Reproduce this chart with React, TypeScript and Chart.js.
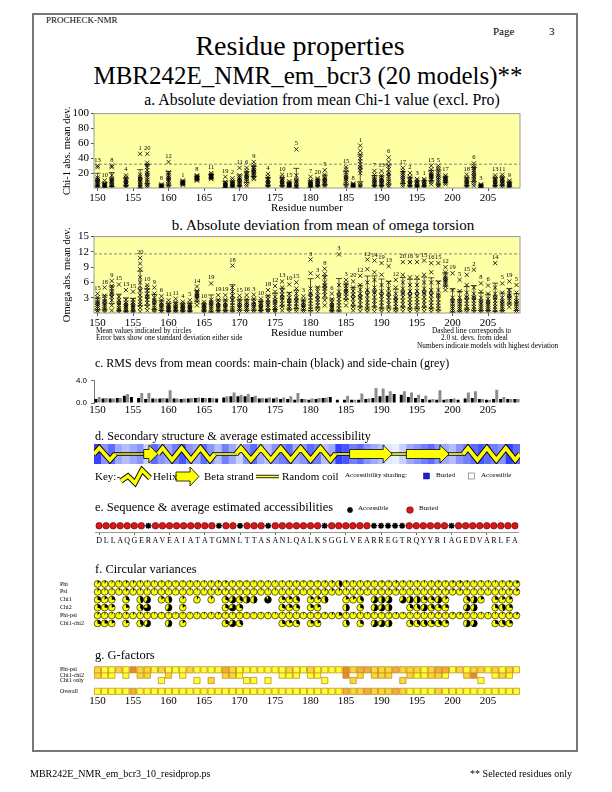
import React, { useEffect, useRef } from "react";
import { Chart, registerables } from "chart.js";

Chart.register(...registerables);

const SERIF = '"Liberation Serif", "Times New Roman", Times, serif';
const SANS = '"Liberation Sans", Arial, sans-serif';
const _ = null;

// ---------------- data ----------------
const SEQUENCE = [..."DLLAQGERAVEAIATATGMNLTTASANLQALKSGGLVEARREGTRQYYRIAGEDVARLFA"];
const FIRST_RESIDUE = 150;
const RESIDUES = SEQUENCE.map((_s, i) => FIRST_RESIDUE + i);
const X_TICKS = [150, 155, 160, 165, 170, 175, 180, 185, 190, 195, 200, 205];
const X_MIN = 149.5;
const X_MAX = 209.5;

// a. Chi-1 absolute deviation
const CHI1_RES = [150, 151, 152, 154, 156, 157, 159, 160, 162, 164, 166, 168, 169, 170, 171, 172, 174, 176, 177, 178, 180, 181, 182, 185, 186, 187, 189, 190, 191, 193, 194, 195, 196, 197, 198, 199, 202, 203, 204, 206, 207, 208];
const CHI1_TOP_MODEL = [13, 10, 8, 4, 1, 20, 8, 12, 1, 8, 11, 19, 2, 11, 6, 9, 4, 10, 15, 5, 7, 20, 5, 15, 8, 1, 7, 13, 6, 17, 2, 3, 1, 15, 5, 17, 18, 6, 3, 13, 11, 9];
const CHI1_VALUES = [
  [1, 2, 3, 5, 6, 8, 9, 11, 12, 14, 28, 30],
  [0.5, 1, 2, 3, 4, 5, 6, 10],
  [1, 2, 4, 5, 7, 9, 10, 12, 17, 28, 30],
  [1, 2, 4, 6, 8, 10, 12, 14, 17],
  [1, 2, 4, 6, 8, 10, 12, 15, 18, 46],
  [1, 3, 5, 8, 11, 14, 17, 20, 24, 28, 31, 34, 46],
  [0.5, 1, 2, 3, 4, 5],
  [1, 3, 5, 8, 10, 12, 14, 17, 19, 21, 35],
  [4, 5, 6, 7, 8, 9, 10],
  [10, 11, 12, 13, 14, 15, 16, 17],
  [12, 13, 14, 15, 16, 17, 18, 20],
  [0.5, 1, 2, 3, 4, 5, 6, 8, 15],
  [0.5, 1, 2, 3, 5, 6, 8, 10, 13],
  [1, 2, 4, 6, 8, 10, 12, 14, 17, 27],
  [3, 6, 9, 12, 14, 16, 18, 20, 23, 27],
  [12, 14, 16, 18, 20, 22, 24, 26, 28, 31, 35],
  [1, 2, 4, 6, 8, 10, 12, 15, 19],
  [0.5, 2, 4, 6, 8, 10, 12, 14, 18],
  [0.5, 1, 2, 3, 4, 5, 6, 7, 9],
  [0.5, 1, 2, 4, 6, 8, 10, 17, 52],
  [0.5, 1, 2, 3, 4, 5, 6, 8, 10, 15],
  [1, 2, 4, 6, 8, 10, 11, 13],
  [2, 4, 6, 8, 10, 12, 14, 18, 24],
  [1, 3, 6, 9, 12, 15, 18, 21, 25, 28],
  [1, 2, 3, 4, 5, 6],
  [1, 2, 4, 6, 20, 24, 28, 32, 36, 40, 45, 50, 57],
  [1, 2, 4, 6, 8, 10, 12, 15, 18, 23],
  [1, 2, 4, 6, 8, 10, 12, 14, 17, 23],
  [1, 3, 6, 9, 12, 16, 20, 25, 30, 35, 41],
  [2, 5, 8, 11, 14, 17, 20, 23, 27],
  [1, 2, 4, 6, 8, 10, 12, 15, 20],
  [0.5, 1, 2, 4, 6, 8, 10, 12],
  [1, 2, 4, 6, 8, 10, 12],
  [5, 8, 11, 13, 15, 16, 17, 19, 22, 25, 30],
  [1, 3, 5, 8, 11, 14, 17, 20, 24, 27, 30],
  [5, 7, 9, 11, 12, 13, 15, 17],
  [1, 2, 4, 6, 8, 10, 12, 14, 18],
  [3, 6, 9, 12, 15, 18, 21, 24, 27, 30, 33],
  [0.5, 1, 2, 3, 4, 5],
  [1, 2, 4, 6, 8, 10, 12, 14, 17],
  [1, 3, 5, 7, 9, 11, 13, 15, 18],
  [0.5, 2, 3, 4, 6, 8, 10],
];
const CHI1_CUTOFF = 32;
const CHI1_Y_TICKS = [20, 40, 60, 80, 100];

// b. omega absolute deviation (all residues)
const OMEGA_TOP_MODEL = [15, 18, 9, 15, 13, 15, 20, 10, 9, 6, 11, 11, 4, 5, 14, 10, 19, 19, 19, 18, 15, 16, 3, 10, 18, 12, 13, 10, 15, 3, 3, 3, 8, 6, 3, 3, 20, 12, 12, 14, 19, 13, 12, 20, 16, 9, 15, 16, 15, 12, 19, 5, 15, 2, 8, 6, 14, 5, 19, 5];
const OMEGA_VALUES = [
  [0.2, 0.5, 0.9, 1.3, 1.7, 2.1, 2.6, 3.1, 3.8],
  [0.2, 0.6, 1.0, 1.4, 1.8, 2.3, 2.8, 3.4, 5.0],
  [0.5, 1.5, 2.5, 3.2, 3.8, 4.3, 4.8, 5.3, 6.3],
  [0.2, 0.6, 1.0, 1.5, 2.0, 2.5, 3.2, 5.6],
  [0.1, 0.4, 0.8, 1.2, 1.6, 2.0, 2.6, 4.5],
  [0.1, 0.4, 0.8, 1.2, 1.6, 2.1, 2.6, 4.2],
  [0.3, 1.0, 1.6, 2.2, 2.8, 3.5, 4.4, 6.0, 7.0, 8.6, 9.7, 10.8],
  [0.5, 1.2, 2.0, 2.6, 3.2, 3.8, 4.4, 5.0, 5.5],
  [0.2, 0.6, 1.0, 1.5, 2.0, 2.5, 3.0, 3.8, 5.0],
  [0.1, 0.4, 0.8, 1.2, 1.6, 2.0, 2.5, 3.3],
  [0.1, 0.3, 0.6, 0.9, 1.2, 1.5, 1.9, 2.5],
  [0.1, 0.4, 0.7, 1.0, 1.3, 1.7, 2.1, 2.8],
  [0.1, 0.3, 0.6, 0.9, 1.2, 1.5, 1.8, 2.2],
  [0.1, 0.3, 0.6, 0.9, 1.2, 1.5, 1.9, 2.5],
  [1.5, 2.2, 2.8, 3.2, 3.5, 3.9, 4.3, 5.2],
  [0.1, 0.3, 0.6, 0.9, 1.2, 1.5, 1.8, 2.2],
  [0.1, 0.5, 0.9, 1.3, 1.7, 2.1, 2.6, 5.8],
  [0.1, 0.4, 0.8, 1.2, 1.6, 2.0, 2.6, 3.5],
  [0.1, 0.4, 0.8, 1.2, 1.6, 2.0, 2.6, 3.5],
  [0.2, 0.6, 1.0, 1.5, 2.0, 2.6, 3.4, 4.2, 5.0, 9.3],
  [0.1, 0.5, 0.9, 1.3, 1.7, 2.1, 2.7, 3.4],
  [0.1, 0.5, 0.9, 1.3, 1.7, 2.1, 2.7, 3.5],
  [0.1, 0.5, 0.9, 1.3, 1.7, 2.2, 2.8, 3.6],
  [0.1, 0.4, 0.8, 1.1, 1.5, 1.9, 2.3, 2.8],
  [0.2, 0.6, 1.1, 1.6, 2.1, 2.7, 3.4, 4.5],
  [0.2, 0.6, 1.0, 1.5, 2.0, 2.5, 3.2, 4.2, 5.3],
  [0.5, 1.2, 1.8, 2.4, 3.0, 3.6, 4.3, 5.0, 6.2],
  [0.3, 0.8, 1.3, 1.8, 2.4, 3.0, 3.8, 5.6],
  [0.3, 0.8, 1.3, 1.8, 2.4, 3.0, 3.8, 4.8, 6.0],
  [0.1, 0.5, 0.9, 1.3, 1.7, 2.1, 2.6, 3.3],
  [0.2, 0.7, 1.2, 1.8, 2.4, 3.0, 3.8, 4.8, 7.8, 10.5],
  [0.3, 0.9, 1.5, 2.1, 2.7, 3.4, 4.2, 5.0, 7.2],
  [1.5, 2.5, 3.5, 4.2, 4.8, 5.4, 6.0, 7.0, 7.7, 8.7],
  [0.1, 0.4, 0.8, 1.2, 1.6, 2.1, 2.7, 3.8],
  [0.3, 0.9, 1.5, 2.1, 2.7, 3.4, 4.2, 5.5, 11.5],
  [1.5, 2.5, 3.2, 3.8, 4.3, 4.8, 5.3, 5.8, 6.5],
  [0.5, 1.2, 2.0, 2.8, 3.6, 4.3, 5.0, 6.2],
  [0.3, 1.0, 1.7, 2.4, 3.1, 3.8, 4.6, 5.5, 7.3],
  [0.2, 0.8, 1.4, 2.0, 2.7, 3.5, 4.5, 6.0, 8.6, 10.5],
  [0.3, 1.0, 1.7, 2.4, 3.1, 4.0, 5.0, 6.5, 8.0, 10.3],
  [0.2, 0.8, 1.4, 2.0, 2.7, 3.4, 4.3, 5.5, 7.5, 9.8],
  [0.3, 1.0, 1.7, 2.4, 3.1, 3.9, 4.8, 6.0, 9.2],
  [0.2, 0.7, 1.2, 1.8, 2.4, 3.0, 3.8, 5.0, 6.5],
  [0.3, 1.0, 1.7, 2.4, 3.1, 3.9, 4.8, 6.0, 7.5, 10.0],
  [0.2, 0.8, 1.4, 2.0, 2.7, 3.4, 4.3, 5.5, 7.0, 10.0],
  [0.3, 0.9, 1.5, 2.1, 2.7, 3.4, 4.3, 5.5, 7.0, 10.0],
  [0.3, 1.0, 1.7, 2.4, 3.1, 3.9, 4.8, 6.0, 7.5, 10.3],
  [0.2, 0.8, 1.4, 2.0, 2.7, 3.5, 4.5, 6.0, 8.0, 9.8],
  [0.2, 0.8, 1.4, 2.0, 2.7, 3.5, 4.5, 6.0, 9.8],
  [4.5, 5.2, 5.7, 6.1, 6.5, 6.9, 7.3, 8.0, 9.0],
  [0.1, 0.5, 0.9, 1.3, 1.8, 2.3, 3.0, 4.5, 7.8],
  [0.1, 0.5, 0.9, 1.3, 1.8, 2.3, 3.0, 4.3, 6.5],
  [0.2, 0.7, 1.2, 1.8, 2.4, 3.1, 4.0, 5.5, 7.5],
  [0.2, 0.7, 1.2, 1.8, 2.4, 3.0, 3.8, 5.0, 8.5],
  [0.1, 0.5, 0.9, 1.3, 1.8, 2.3, 3.0, 4.2, 5.8],
  [0.1, 0.5, 0.9, 1.3, 1.7, 2.2, 2.8, 3.8, 5.4],
  [0.2, 0.7, 1.2, 1.8, 2.4, 3.0, 3.8, 5.0, 9.8],
  [0.1, 0.5, 0.9, 1.3, 1.8, 2.3, 3.0, 4.0, 5.8],
  [1.2, 1.8, 2.4, 2.9, 3.4, 3.9, 4.5, 6.2],
  [0.1, 0.5, 0.9, 1.3, 1.8, 2.3, 3.0, 4.0, 5.5],
];
const OMEGA_CUTOFF = 11.6;
const OMEGA_Y_TICKS = [3, 6, 9, 12, 15];

// c. RMS deviations
const MAIN_RMS = [0.7, 0.8, 0.8, 0.9, 1.3, 1.1, 0.9, 0.7, 0.8, 0.8, 0.8, 0.8, 0.7, 0.8, 0.9, 0.9, 0.9, 0.8, 1.0, 1.2, 1.2, 1.2, 1.1, 0.8, 0.8, 0.8, 0.7, 0.7, 0.6, 0.7, 0.6, 0.7, 0.9, 1.1, 0.6, 0.6, 0.6, 0.6, 0.7, 0.9, 1.2, 1.3, 1.6, 1.5, 1.1, 0.9, 0.7, 0.6, 0.6, 0.6, 0.7, 0.6, 0.8, 0.9, 0.7, 0.6, 0.7, 0.7, 0.7, 0.7];
const SIDE_RMS = [1.1, 0.9, 0.8, 0.9, 1.6, _, 1.8, 1.8, 0.8, 0.9, 2.3, 0.8, 0.8, 0.9, 1.0, 0.9, 0.9, _, 1.2, 1.9, 1.5, 1.6, 1.3, 0.9, 1.0, 1.0, 1.0, 1.2, 1.8, 0.7, 0.8, 0.9, 1.0, _, _, 1.3, 0.6, 1.7, 0.8, 2.7, 2.6, 2.1, _, 2.1, 1.9, 1.5, 1.3, 0.7, 2.3, 0.7, 0.8, _, 1.9, 2.1, 0.7, 0.6, 2.4, 1.1, 0.7, 0.7];
const RMS_Y_TICKS = [0, 4];

// d. secondary structure (H helix, E strand, C coil) and accessibility (0 buried .. 1 accessible)
const SEC_STRUCT = [..."HHHCCCCEEHHHHHHHHCCCHHHHHHHHHHHHHHCCEEEEEECCEEEEEECCHHHHHHHH"];
const ACCESSIBILITY = [0.1, 0.5, 0.3, 0.6, 0.7, 0.6, 0.5, 0.8, 0.3, 0.5, 0.6, 0.4, 0.2, 0.5, 0.6, 0.3, 0.5, 0.7, 0.4, 0.6, 0.8, 0.5, 0.3, 0.6, 0.7, 0.5, 0.4, 0.3, 0.6, 0.5, 0.3, 0.4, 0.7, 0.6, 0.1, 0.2, 0.4, 0.3, 0.5, 0.6, 0.7, 0.9, 0.95, 0.8, 0.6, 0.5, 0.4, 0.3, 0.5, 0.6, 0.7, 0.5, 0.4, 0.3, 0.2, 0.3, 0.4, 0.5, 0.1, 0.3];

// e. buried (1) / accessible (0)
const BURIED = [1, 1, 1, 1, 1, 1, 1, 0, 1, 1, 1, 1, 1, 1, 1, 1, 1, 0, 1, 1, 0, 1, 1, 1, 0, 1, 1, 1, 1, 1, 1, 1, 0, 1, 1, 1, 1, 1, 1, 0, 0, 0, 0, 0, 1, 1, 1, 1, 1, 1, 0, 1, 1, 1, 1, 1, 1, 1, 1, 1];

// f. circular variances
const CV_ROWS = ["Phi", "Psi", "Chi1", "Chi2", "Phi-psi", "Chi1-chi2"];
const CV_PHI = [0.12, 0.08, 0.06, 0.05, 0.1, 0.08, 0.06, 0.05, 0.05, 0.06, 0.05, 0.05, 0.05, 0.06, 0.05, 0.05, 0.06, 0.08, 0.1, 0.06, 0.05, 0.05, 0.05, 0.05, 0.05, 0.05, 0.05, 0.05, 0.06, 0.05, 0.05, 0.06, 0.08, 0.1, 0.45, 0.08, 0.06, 0.05, 0.06, 0.05, 0.08, 0.06, 0.1, 0.08, 0.06, 0.06, 0.05, 0.06, 0.08, 0.06, 0.1, 0.12, 0.08, 0.06, 0.05, 0.05, 0.05, 0.06, 0.08, 0.15];
const CV_PSI = [0.1, 0.06, 0.05, 0.06, 0.12, 0.08, 0.06, 0.05, 0.05, 0.05, 0.05, 0.05, 0.05, 0.05, 0.05, 0.05, 0.06, 0.1, 0.08, 0.06, 0.05, 0.05, 0.05, 0.05, 0.05, 0.05, 0.05, 0.05, 0.05, 0.05, 0.05, 0.06, 0.1, 0.12, 0.1, 0.06, 0.05, 0.06, 0.06, 0.06, 0.06, 0.08, 0.1, 0.06, 0.05, 0.06, 0.05, 0.06, 0.08, 0.08, 0.1, 0.1, 0.06, 0.05, 0.05, 0.05, 0.05, 0.06, 0.1, 0.15];
const CV_CHI1 = [0.3, 0.15, 0.25, _, 0.3, _, 0.45, 0.6, _, 0.15, 0.45, _, 0.1, _, 0.1, _, 0.1, _, 0.3, 0.6, 0.35, 0.5, 0.5, _, 0.9, _, 0.25, 0.2, 0.35, _, 0.2, 0.2, 0.45, _, _, 0.2, 0.15, 0.35, _, 0.6, 0.5, 0.6, _, 0.65, 0.55, 0.5, 0.3, 0.3, 0.55, 0.15, _, _, 0.35, 0.55, 0.2, _, 0.25, 0.2, 0.2, _];
const CV_CHI2 = [0.3, 0.25, 0.2, _, 0.25, _, 0.4, 0.75, _, _, 0.6, _, 0.15, _, _, _, _, _, 0.3, 0.7, 0.3, _, _, _, _, _, 0.3, 0.25, 0.3, _, 0.25, 0.2, _, _, _, 0.5, _, 0.3, _, 0.55, 0.6, 0.5, _, _, 0.3, 0.35, 0.6, 0.35, 0.3, 0.25, _, _, 0.6, 0.55, _, _, 0.3, 0.45, 0.25, _];
const CV_PHIPSI = [0.1, 0.06, 0.05, 0.05, 0.1, 0.08, 0.06, 0.05, 0.05, 0.05, 0.05, 0.05, 0.05, 0.05, 0.05, 0.05, 0.06, 0.08, 0.08, 0.06, 0.05, 0.05, 0.05, 0.05, 0.05, 0.05, 0.05, 0.05, 0.05, 0.05, 0.05, 0.06, 0.08, 0.1, 0.25, 0.06, 0.05, 0.05, 0.06, 0.05, 0.06, 0.06, 0.08, 0.06, 0.05, 0.06, 0.05, 0.06, 0.08, 0.06, 0.08, 0.1, 0.06, 0.05, 0.05, 0.05, 0.05, 0.06, 0.08, 0.12];
const CV_CHI12 = [0.3, 0.25, 0.2, _, 0.2, _, 0.4, 0.6, _, _, 0.55, _, 0.15, _, _, _, _, _, 0.3, 0.65, 0.35, _, _, _, _, _, 0.3, 0.2, 0.3, _, 0.25, 0.2, _, _, _, 0.4, _, 0.3, _, 0.6, 0.6, 0.5, _, _, 0.35, 0.35, 0.4, 0.3, 0.35, 0.25, _, _, 0.55, 0.6, _, _, 0.3, 0.35, 0.25, _];
const CV_SERIES = [CV_PHI, CV_PSI, CV_CHI1, CV_CHI2, CV_PHIPSI, CV_CHI12];

// g. G-factors
const G_ROWS = ["Phi-psi", "Chi1-chi2", "Chi1 only", " ", "Overall"];
const G_PHIPSI = [-0.5, 0.1, 0.1, -0.4, 0.1, -1.2, -0.5, -0.4, 0.1, -0.5, 0.1, 0.1, 0.1, -0.5, 0.1, 0.1, 0.1, 0.1, -1.0, -0.5, 0.1, 0.1, 0.1, 0.1, 0.1, 0.1, 0.1, -0.4, 0.1, 0.1, -0.4, 0.1, 0.1, 0.1, 0.1, -1.3, -0.4, -0.9, -0.9, -0.5, -0.5, -0.6, -1.0, -0.5, -0.4, -0.4, 0.1, -0.4, -1.0, -1.0, 0.1, -0.4, 0.1, -0.4, -0.4, 0.1, -0.4, 0.1, -0.4, 0.1];
const G_CHI12 = [-0.5, 0.1, 0.1, _, 0.1, _, -0.5, -0.5, _, _, -0.5, _, 0.1, _, _, _, _, _, -0.5, -0.5, 0.1, _, _, _, _, _, 0.1, 0.1, 0.1, _, 0.1, 0.1, _, _, _, -1.2, _, -0.5, _, -0.5, -0.5, -0.5, _, _, -0.5, 0.1, 0.1, -0.5, -0.5, 0.1, _, _, -0.5, -1.3, _, _, 0.1, -0.5, 0.1, _];
const G_CHI1ONLY = [_, _, _, _, _, _, _, _, _, 0.1, _, _, _, _, 0.1, _, -0.5, _, _, _, _, 0.1, 0.1, _, 0.1, _, _, _, _, _, _, _, 0.1, _, _, _, -0.5, _, _, _, _, _, _, -0.5, _, _, _, _, _, _, _, _, _, _, 0.1, _, _, _, _, _];
const G_OVERALL = [0.1, 0.1, 0.1, 0.1, 0.1, -1.0, 0.1, 0.1, 0.1, 0.1, 0.1, 0.1, 0.1, 0.1, 0.1, 0.1, 0.1, 0.1, 0.1, 0.1, 0.1, 0.1, 0.1, 0.1, 0.1, 0.1, 0.1, 0.1, 0.1, 0.1, 0.1, 0.1, 0.1, 0.1, 0.1, -1.0, -0.4, -0.6, -0.9, -0.4, -0.5, -0.4, -1.0, -0.4, 0.1, 0.1, 0.1, 0.1, -0.4, 0.1, 0.1, 0.1, 0.1, 0.1, 0.1, 0.1, 0.1, 0.1, 0.1, 0.1];
const G_SERIES = [G_PHIPSI, G_CHI12, G_CHI1ONLY, [], G_OVERALL];

// ---------------- helpers ----------------
function meanSd(v: number[]) {
  const m = v.reduce((a, b) => a + b, 0) / v.length;
  const sd = Math.sqrt(v.reduce((a, b) => a + (b - m) * (b - m), 0) / v.length);
  return [m, sd];
}

function accessColor(a: number) {
  const r = Math.round(30 + a * 215);
  const g = Math.round(45 + a * 205);
  return `rgb(${r},${g},255)`;
}

function gColor(g: number) {
  if (g >= -0.3) return "#ffff33";
  if (g >= -0.7) return "#fcd43c";
  if (g >= -1.1) return "#f5ac38";
  return "#ec8a2a";
}

const BASE = {
  animation: false,
  responsive: false,
  events: [],
  plugins: { legend: { display: false }, tooltip: { enabled: false } },
};

function xTicksHook(s: any) {
  s.ticks = X_TICKS.map((v) => ({ value: v }));
}

function xAxisNumbers(height: number, title: string | null, tickLen: number) {
  return {
    type: "linear",
    min: X_MIN,
    max: X_MAX,
    offset: false,
    afterBuildTicks: xTicksHook,
    afterFit: (s: any) => {
      s.height = height;
    },
    ticks: { font: { family: SERIF, size: 11 }, color: "#000", maxRotation: 0, autoSkip: false, padding: 1 },
    grid: { display: tickLen > 0, drawOnChartArea: false, drawTicks: tickLen > 0, tickLength: tickLen, tickColor: "#555", offset: false },
    border: { display: false },
    title: { display: !!title, text: title || "", font: { family: SERIF, size: 11 }, color: "#000", padding: 0 },
  };
}

function plotFramePlugin(fill: string) {
  return {
    id: "plotFrame",
    beforeDatasetsDraw(chart: any) {
      const { ctx, chartArea: a } = chart;
      ctx.save();
      ctx.fillStyle = fill;
      ctx.fillRect(a.left, a.top, a.right - a.left, a.bottom - a.top);
      ctx.restore();
    },
    afterDatasetsDraw(chart: any) {
      const { ctx, chartArea: a } = chart;
      ctx.save();
      ctx.strokeStyle = "#9a9a9a";
      ctx.lineWidth = 1;
      ctx.strokeRect(a.left, a.top, a.right - a.left, a.bottom - a.top);
      ctx.restore();
    },
  };
}

function deviationConfig(p: any) {
  const points = p.res.flatMap((r: number, i: number) => p.values[i].map((v: number) => ({ x: r, y: v })));
  const stats = p.values.map(meanSd);
  const means = p.res.map((r: number, i: number) => ({ x: r, y: stats[i][0] }));
  const extras = {
    id: "devExtras",
    afterDatasetsDraw(chart: any) {
      const { ctx } = chart;
      const x = chart.scales.x;
      const y = chart.scales.y;
      ctx.save();
      ctx.strokeStyle = "#000";
      ctx.lineWidth = 0.7;
      p.res.forEach((r: number, i: number) => {
        const [m, sd] = stats[i];
        const px = x.getPixelForValue(r);
        const y1 = y.getPixelForValue(Math.max(0, m - sd));
        const y2 = y.getPixelForValue(m + sd);
        ctx.beginPath();
        ctx.moveTo(px, y1);
        ctx.lineTo(px, y2);
        ctx.moveTo(px - 3, y1);
        ctx.lineTo(px + 3, y1);
        ctx.moveTo(px - 3, y2);
        ctx.lineTo(px + 3, y2);
        ctx.stroke();
      });
      ctx.fillStyle = "#000";
      ctx.font = `6.5px ${SERIF}`;
      ctx.textAlign = "center";
      ctx.textBaseline = "alphabetic";
      p.res.forEach((r: number, i: number) => {
        const mx = Math.max(...p.values[i]);
        ctx.fillText(String(p.models[i]), x.getPixelForValue(r), y.getPixelForValue(mx) - 4);
      });
      ctx.restore();
    },
  };
  return {
    type: "scatter",
    data: {
      datasets: [
        {
          data: [
            { x: X_MIN, y: p.cutoff },
            { x: X_MAX, y: p.cutoff },
          ],
          showLine: true,
          borderColor: "#666",
          borderWidth: 0.8,
          borderDash: [3, 2],
          pointRadius: 0,
        },
        { data: points, pointStyle: "crossRot", pointRadius: 3, pointBorderColor: "#000", pointBackgroundColor: "#000", pointBorderWidth: 0.8 },
        { data: means, pointStyle: "circle", pointRadius: 1.8, pointBorderColor: "#000", pointBackgroundColor: "#fff", pointBorderWidth: 0.8 },
      ],
    },
    options: {
      ...BASE,
      layout: { padding: { top: 8, right: 10, left: 0, bottom: 0 } },
      scales: {
        x: xAxisNumbers(p.xAxisHeight, "Residue number", 3),
        y: {
          min: 0,
          max: p.yMax,
          afterBuildTicks: (s: any) => {
            s.ticks = p.yTicks.map((v: number) => ({ value: v }));
          },
          afterFit: (s: any) => {
            s.width = 38;
          },
          ticks: { font: { family: SERIF, size: 11 }, color: "#000", padding: 2 },
          grid: { drawOnChartArea: false, tickLength: 3, tickColor: "#555" },
          border: { display: false },
          title: { display: true, text: p.yTitle, font: { family: SERIF, size: 10.5 }, color: "#000", padding: { top: 5, bottom: 0 } },
        },
      },
    },
    plugins: [plotFramePlugin("#ffffa6"), extras],
  };
}

function rmsConfig() {
  return {
    type: "bar",
    data: {
      datasets: [
        { data: RESIDUES.map((r, i) => ({ x: r, y: MAIN_RMS[i] })), backgroundColor: "#000" },
        { data: RESIDUES.map((r, i) => ({ x: r, y: SIDE_RMS[i] })), backgroundColor: "#8c8c8c" },
      ],
    },
    options: {
      ...BASE,
      layout: { padding: { top: 7, right: 10, left: 0, bottom: 0 } },
      datasets: { bar: { barPercentage: 0.92, categoryPercentage: 0.9 } },
      scales: {
        x: xAxisNumbers(15, null, 0),
        y: {
          min: 0,
          max: 4,
          afterBuildTicks: (s: any) => {
            s.ticks = RMS_Y_TICKS.map((v) => ({ value: v }));
          },
          afterFit: (s: any) => {
            s.width = 38;
          },
          ticks: { font: { family: SANS, size: 8 }, color: "#000", padding: 4, callback: (v: any) => Number(v).toFixed(1) },
          grid: { drawOnChartArea: false, tickLength: 3, tickColor: "#777" },
          border: { display: true, color: "#777", width: 1 },
        },
      },
    },
  };
}

function secStructPlugin() {
  return {
    id: "secStruct",
    afterDatasetsDraw(chart: any) {
      const { ctx, chartArea: a } = chart;
      const x = chart.scales.x;
      const mid = (a.top + a.bottom) / 2;
      const segs: any[] = [];
      let s = 0;
      for (let i = 1; i <= SEC_STRUCT.length; i++) {
        if (i === SEC_STRUCT.length || SEC_STRUCT[i] !== SEC_STRUCT[s]) {
          segs.push({ type: SEC_STRUCT[s], x0: x.getPixelForValue(RESIDUES[s] - 0.5), x1: x.getPixelForValue(RESIDUES[i - 1] + 0.5) });
          s = i;
        }
      }
      ctx.save();
      segs.filter((g) => g.type === "C").forEach((g) => {
        ctx.lineCap = "butt";
        ctx.strokeStyle = "#000";
        ctx.lineWidth = 3.4;
        ctx.beginPath();
        ctx.moveTo(g.x0 - 2, mid);
        ctx.lineTo(g.x1 + 2, mid);
        ctx.stroke();
        ctx.strokeStyle = "#ffff30";
        ctx.lineWidth = 1.7;
        ctx.stroke();
      });
      segs.filter((g) => g.type === "E").forEach((g) => {
        const head = 9;
        ctx.beginPath();
        ctx.moveTo(g.x0, mid - 4.5);
        ctx.lineTo(g.x1 - head, mid - 4.5);
        ctx.lineTo(g.x1 - head, a.top + 1);
        ctx.lineTo(g.x1, mid);
        ctx.lineTo(g.x1 - head, a.bottom - 1);
        ctx.lineTo(g.x1 - head, mid + 4.5);
        ctx.lineTo(g.x0, mid + 4.5);
        ctx.closePath();
        ctx.fillStyle = "#ffff00";
        ctx.fill();
        ctx.strokeStyle = "#000";
        ctx.lineWidth = 0.8;
        ctx.stroke();
      });
      segs.filter((g) => g.type === "H").forEach((g) => {
        const len = g.x1 - g.x0;
        let n = Math.max(2, Math.round(len / 10));
        if (n % 2) n += 1;
        const h = len / n;
        const top = a.top + 4;
        const bot = a.bottom - 4;
        const pts: number[][] = [[g.x0, mid]];
        for (let k = 1; k <= n; k++) pts.push([g.x0 + (k - 0.5) * h, k % 2 ? top : bot]);
        pts.push([g.x1, mid]);
        ctx.lineJoin = "miter";
        ctx.miterLimit = 3;
        ctx.beginPath();
        pts.forEach((pt, i) => (i ? ctx.lineTo(pt[0], pt[1]) : ctx.moveTo(pt[0], pt[1])));
        ctx.strokeStyle = "#000";
        ctx.lineWidth = 5.6;
        ctx.stroke();
        ctx.strokeStyle = "#ffff00";
        ctx.lineWidth = 3.8;
        ctx.stroke();
      });
      ctx.restore();
    },
  };
}

function secStructConfig() {
  return {
    type: "bar",
    data: {
      datasets: [
        {
          data: RESIDUES.map((r) => ({ x: r, y: [0, 1] })),
          backgroundColor: ACCESSIBILITY.map(accessColor),
          borderWidth: 0,
          barPercentage: 1.04,
          categoryPercentage: 1,
        },
      ],
    },
    options: {
      ...BASE,
      layout: { padding: 0 },
      scales: {
        x: { type: "linear", min: X_MIN, max: X_MAX, offset: false, display: false, grid: { offset: false } },
        y: { min: 0, max: 1, display: false },
      },
    },
    plugins: [secStructPlugin()],
  };
}

function sequenceConfig() {
  return {
    type: "scatter",
    data: {
      datasets: [
        {
          data: RESIDUES.map((r) => ({ x: r, y: 0.5 })),
          pointStyle: BURIED.map((b) => (b ? "circle" : "star")),
          pointRadius: BURIED.map((b) => (b ? 3.3 : 3.1)),
          pointBackgroundColor: BURIED.map((b) => (b ? "#d81818" : "#000")),
          pointBorderColor: BURIED.map((b) => (b ? "#5a0000" : "#000")),
          pointBorderWidth: BURIED.map((b) => (b ? 0.6 : 1.5)),
        },
      ],
    },
    options: {
      ...BASE,
      layout: { padding: { left: 4, right: 4, top: 0, bottom: 0 } },
      scales: {
        x: {
          type: "linear",
          min: X_MIN,
          max: X_MAX,
          afterBuildTicks: (s: any) => {
            s.ticks = RESIDUES.map((v) => ({ value: v }));
          },
          afterFit: (s: any) => {
            s.height = 14;
          },
          ticks: { font: { family: SERIF, size: 8 }, color: "#000", maxRotation: 0, autoSkip: false, padding: 1, callback: (v: any) => SEQUENCE[Number(v) - FIRST_RESIDUE] },
          grid: {
            drawOnChartArea: false,
            tickLength: 3,
            tickColor: (c: any) => (c.tick && (c.tick.value - FIRST_RESIDUE) % 5 === 0 ? "#666" : "rgba(0,0,0,0)"),
          },
          border: { display: true, color: "#999" },
        },
        y: { min: 0, max: 1, display: false },
      },
    },
  };
}

function rowAxis(labels: string[], width: number) {
  return {
    type: "category",
    labels,
    offset: true,
    afterFit: (s: any) => {
      s.width = width;
    },
    ticks: { font: { family: SERIF, size: 6 }, color: "#000", crossAlign: "far", padding: 0, autoSkip: false },
    grid: { display: false },
    border: { display: false },
  };
}

function pieConfig() {
  const pies = {
    id: "pies",
    afterDatasetsDraw(chart: any) {
      const { ctx } = chart;
      ctx.save();
      chart.data.datasets.forEach((ds: any, d: number) => {
        const meta = chart.getDatasetMeta(d);
        meta.data.forEach((el: any, i: number) => {
          const f = ds.data[i].f;
          const r = 3.4;
          ctx.beginPath();
          ctx.arc(el.x, el.y, r, 0, Math.PI * 2);
          ctx.fillStyle = "#ffff00";
          ctx.fill();
          if (f > 0) {
            ctx.beginPath();
            ctx.moveTo(el.x, el.y);
            ctx.arc(el.x, el.y, r, -Math.PI / 2, -Math.PI / 2 + f * Math.PI * 2);
            ctx.closePath();
            ctx.fillStyle = "#000";
            ctx.fill();
          }
          ctx.beginPath();
          ctx.arc(el.x, el.y, r, 0, Math.PI * 2);
          ctx.strokeStyle = "#000";
          ctx.lineWidth = 0.6;
          ctx.stroke();
        });
      });
      ctx.restore();
    },
  };
  return {
    type: "scatter",
    data: {
      datasets: CV_SERIES.map((vals, k) => ({
        data: RESIDUES.map((r, i) => (vals[i] == null ? null : { x: r, y: CV_ROWS[k], f: vals[i] })).filter(Boolean),
        pointRadius: 0,
      })),
    },
    options: {
      ...BASE,
      layout: { padding: { top: 4, right: 10, left: 0, bottom: 0 } },
      scales: {
        x: { type: "linear", min: X_MIN, max: X_MAX, display: false },
        y: rowAxis(CV_ROWS, 34),
      },
    },
    plugins: [pies],
  };
}

function gFactorConfig() {
  return {
    type: "scatter",
    data: {
      datasets: G_SERIES.map((vals, k) => {
        const idx = RESIDUES.map((_r, i) => i).filter((i) => vals[i] != null && vals[i] !== undefined);
        return {
          data: idx.map((i) => ({ x: RESIDUES[i], y: G_ROWS[k] })),
          pointStyle: "rect",
          pointRadius: 4.4,
          pointBackgroundColor: idx.map((i) => gColor(vals[i] as number)),
          pointBorderColor: "#b8860b",
          pointBorderWidth: 0.7,
        };
      }),
    },
    options: {
      ...BASE,
      layout: { padding: { top: 0, right: 10, left: 0, bottom: 0 } },
      scales: {
        x: xAxisNumbers(14, null, 0),
        y: rowAxis(G_ROWS, 34),
      },
    },
  };
}

// ---------------- components ----------------
function ChartBox({ left, top, width, height, build }: any) {
  const ref = useRef<HTMLCanvasElement | null>(null);
  useEffect(() => {
    if (!ref.current) return;
    const chart = new Chart(ref.current, build());
    return () => chart.destroy();
  }, []);
  return (
    <div style={{ position: "absolute", left, top, width, height }}>
      <canvas ref={ref} width={width} height={height} style={{ width, height, display: "block" }} />
    </div>
  );
}

function Txt({ x, y, size, text, align = "left", family = SERIF }: any) {
  const style: any = {
    position: "absolute",
    top: y - size * 0.56,
    fontSize: size,
    lineHeight: `${size}px`,
    fontFamily: family,
    whiteSpace: "nowrap",
    color: "#000",
  };
  if (align === "left") style.left = x;
  else if (align === "right") style.right = 612 - x;
  else {
    style.left = x - 300;
    style.width = 600;
    style.textAlign = "center";
  }
  return <div style={style}>{text}</div>;
}

function KeyIcons() {
  return (
    <svg style={{ position: "absolute", left: 0, top: 0 }} width={612} height={792}>
      <polyline points="121,481 128,476 135,483 142,470 150,478" fill="none" stroke="#000" strokeWidth={5.4} strokeLinejoin="miter" />
      <polyline points="121,481 128,476 135,483 142,470 150,478" fill="none" stroke="#ffff00" strokeWidth={3.6} strokeLinejoin="miter" />
      <polygon points="176,472 190,472 190,467 199,476.5 190,486 190,481 176,481" fill="#ffff00" stroke="#000" strokeWidth={0.8} />
      <line x1={256} y1={476.5} x2={279} y2={476.5} stroke="#000" strokeWidth={3.4} />
      <line x1={256} y1={476.5} x2={279} y2={476.5} stroke="#ffff30" strokeWidth={1.7} />
      <rect x={423.5} y={473} width={6} height={6} fill="#1c1cf0" stroke="#000" strokeWidth={0.4} />
      <rect x={468.5} y={473} width={6} height={6} fill="#fff" stroke="#666" strokeWidth={0.6} />
      <g stroke="#000" strokeWidth={1.5}>
        <line x1={347} y1={510} x2={353} y2={510} />
        <line x1={350} y1={507} x2={350} y2={513} />
        <line x1={347.9} y1={507.9} x2={352.1} y2={512.1} />
        <line x1={352.1} y1={507.9} x2={347.9} y2={512.1} />
      </g>
      <circle cx={410} cy={510} r={3.3} fill="#d81818" stroke="#5a0000" strokeWidth={0.6} />
    </svg>
  );
}

export default function App() {
  return (
    <div style={{ position: "absolute", left: 0, top: 0, width: 612, height: 792, background: "#fff", overflow: "hidden" }}>
      <div style={{ position: "absolute", left: 32, top: 13, width: 542, height: 735, border: "2px solid #777" }} />

      <Txt x={46} y={21} size={9} text="PROCHECK-NMR" />
      <Txt x={493} y={32} size={11} text="Page" />
      <Txt x={549} y={32} size={11} text="3" />
      <Txt x={300} y={48} size={28} align="center" text="Residue properties" />
      <Txt x={308} y={77} size={25} align="center" text="MBR242E_NMR_em_bcr3 (20 models)**" />

      <Txt x={322} y={101} size={15.8} align="center" text="a. Absolute deviation from mean Chi-1 value (excl. Pro)" />
      <ChartBox
        left={56}
        top={105}
        width={474}
        height={110}
        build={() =>
          deviationConfig({
            res: CHI1_RES,
            values: CHI1_VALUES,
            models: CHI1_TOP_MODEL,
            cutoff: CHI1_CUTOFF,
            yMax: 100,
            yTicks: CHI1_Y_TICKS,
            yTitle: "Chi-1 abs. mean dev.",
            xAxisHeight: 27,
          })
        }
      />

      <Txt x={323} y={226} size={15} align="center" text="b. Absolute deviation from mean of omega torsion" />
      <ChartBox
        left={56}
        top={228}
        width={474}
        height={112}
        build={() =>
          deviationConfig({
            res: RESIDUES,
            values: OMEGA_VALUES,
            models: OMEGA_TOP_MODEL,
            cutoff: OMEGA_CUTOFF,
            yMax: 15,
            yTicks: OMEGA_Y_TICKS,
            yTitle: "Omega abs. mean dev.",
            xAxisHeight: 27,
          })
        }
      />
      <Txt x={96} y={331} size={7.3} text="Mean values indicated by circles" />
      <Txt x={96} y={338.5} size={7.3} text="Error bars show one standard deviation either side" />
      <Txt x={432} y={331} size={7.3} text="Dashed line corresponds to" />
      <Txt x={441} y={338.5} size={7.3} text="2.0 st. devs. from ideal" />
      <Txt x={417} y={346} size={7.3} text="Numbers indicate models with highest deviation" />

      <Txt x={95} y={364} size={12} text="c. RMS devs from mean coords: main-chain (black) and side-chain (grey)" />
      <ChartBox left={56} top={372} width={474} height={46} build={rmsConfig} />

      <Txt x={95} y={437} size={12.2} text="d. Secondary structure & average estimated accessibility" />
      <ChartBox left={94} top={444} width={426} height={20} build={secStructConfig} />
      <KeyIcons />
      <Txt x={95} y={477} size={11} text="Key:-" />
      <Txt x={153} y={477} size={11} text="Helix" />
      <Txt x={204} y={477} size={11} text="Beta strand" />
      <Txt x={282} y={477} size={11} text="Random coil" />
      <Txt x={345} y={476} size={7} text="Accessibility shading:" />
      <Txt x={436} y={476} size={7} text="Buried" />
      <Txt x={481} y={476} size={7} text="Accessible" />

      <Txt x={95} y={508} size={12.5} text="e. Sequence & average estimated accessibilities" />
      <Txt x={358} y={509} size={7} text="Accessible" />
      <Txt x={419} y={509} size={7} text="Buried" />
      <ChartBox left={90} top={514} width={434} height={32} build={sequenceConfig} />

      <Txt x={95} y={570} size={12.5} text="f. Circular variances" />
      <ChartBox left={60} top={576} width={470} height={55} build={pieConfig} />

      <Txt x={95} y={656} size={12.5} text="g. G-factors" />
      <ChartBox left={60} top={662} width={470} height={46} build={gFactorConfig} />

      <Txt x={30} y={775} size={10} text="MBR242E_NMR_em_bcr3_10_residprop.ps" />
      <Txt x={572} y={775} size={10} align="right" text="** Selected residues only" />
    </div>
  );
}
